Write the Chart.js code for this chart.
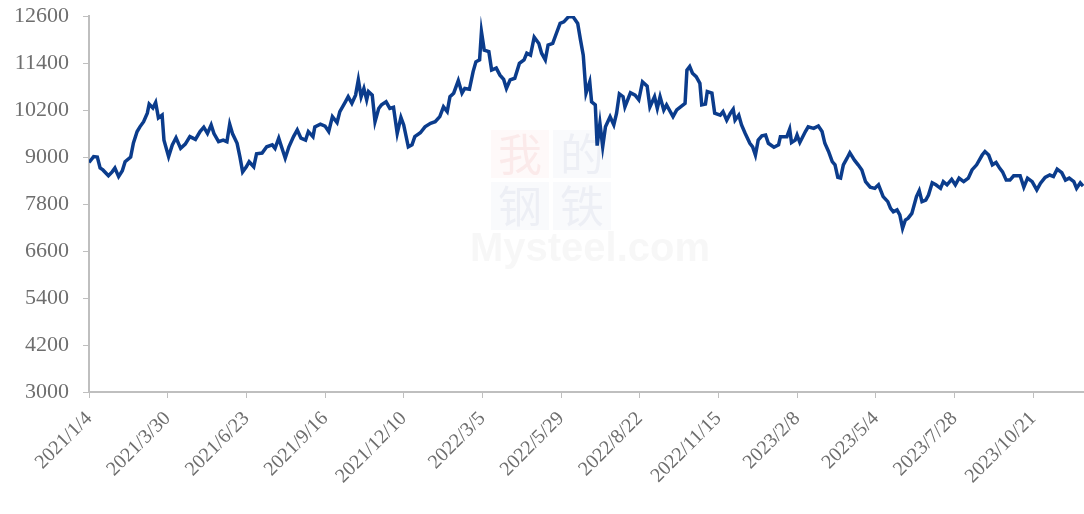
<!DOCTYPE html>
<html>
<head>
<meta charset="utf-8">
<script src="https://cdn.jsdelivr.net/npm/chart.js@4/dist/chart.umd.min.js"></script>
<style>
  html, body { margin: 0; padding: 0; background: #fff; }
  #wrap { width: 1084px; height: 514px; position: relative; }
</style>
</head>
<body>
<div id="wrap"><canvas id="chart"></canvas></div>
<script>
// price series (about one point per trading week)
var dates = [
    '2021/1/4', '2021/1/9', '2021/1/13', '2021/1/16', '2021/1/19', '2021/1/25', '2021/1/29', '2021/2/1', '2021/2/5', '2021/2/9',
    '2021/2/12', '2021/2/18', '2021/2/21', '2021/2/25', '2021/2/28', '2021/3/4', '2021/3/8', '2021/3/10', '2021/3/14', '2021/3/17',
    '2021/3/20', '2021/3/24', '2021/3/26', '2021/3/31', '2021/4/4', '2021/4/8', '2021/4/13', '2021/4/18', '2021/4/23', '2021/4/29',
    '2021/5/4', '2021/5/8', '2021/5/12', '2021/5/16', '2021/5/19', '2021/5/24', '2021/5/29', '2021/6/2', '2021/6/5', '2021/6/8',
    '2021/6/13', '2021/6/16', '2021/6/19', '2021/6/23', '2021/6/26', '2021/7/1', '2021/7/4', '2021/7/10', '2021/7/15', '2021/7/21',
    '2021/7/24', '2021/7/28', '2021/7/31', '2021/8/4', '2021/8/8', '2021/8/13', '2021/8/17', '2021/8/21', '2021/8/26', '2021/8/29',
    '2021/9/3', '2021/9/5', '2021/9/11', '2021/9/16', '2021/9/20', '2021/9/24', '2021/9/29', '2021/10/2', '2021/10/8', '2021/10/11',
    '2021/10/15', '2021/10/19', '2021/10/22', '2021/10/25', '2021/10/28', '2021/10/31', '2021/11/2', '2021/11/6', '2021/11/9', '2021/11/13',
    '2021/11/16', '2021/11/21', '2021/11/25', '2021/11/29', '2021/12/3', '2021/12/7', '2021/12/10', '2021/12/15', '2021/12/19', '2021/12/22',
    '2021/12/28', '2022/1/2', '2022/1/8', '2022/1/13', '2022/1/18', '2022/1/22', '2022/1/26', '2022/1/29', '2022/2/2', '2022/2/7',
    '2022/2/11', '2022/2/14', '2022/2/19', '2022/2/23', '2022/2/26', '2022/3/2', '2022/3/4', '2022/3/7', '2022/3/12', '2022/3/15',
    '2022/3/20', '2022/3/24', '2022/3/28', '2022/3/31', '2022/4/4', '2022/4/9', '2022/4/14', '2022/4/19', '2022/4/22', '2022/4/26',
    '2022/4/30', '2022/5/5', '2022/5/8', '2022/5/12', '2022/5/15', '2022/5/20', '2022/5/24', '2022/5/28', '2022/6/1', '2022/6/6',
    '2022/6/11', '2022/6/16', '2022/6/19', '2022/6/22', '2022/6/25', '2022/6/29', '2022/7/1', '2022/7/5', '2022/7/7', '2022/7/10',
    '2022/7/13', '2022/7/16', '2022/7/21', '2022/7/25', '2022/7/28', '2022/7/31', '2022/8/4', '2022/8/6', '2022/8/12', '2022/8/17',
    '2022/8/21', '2022/8/25', '2022/8/30', '2022/9/2', '2022/9/7', '2022/9/10', '2022/9/13', '2022/9/17', '2022/9/20', '2022/9/24',
    '2022/9/27', '2022/10/1', '2022/10/10', '2022/10/12', '2022/10/15', '2022/10/18', '2022/10/22', '2022/10/26', '2022/10/28', '2022/11/1',
    '2022/11/3', '2022/11/8', '2022/11/11', '2022/11/17', '2022/11/20', '2022/11/24', '2022/11/28', '2022/12/1', '2022/12/3', '2022/12/7',
    '2022/12/10', '2022/12/14', '2022/12/19', '2022/12/22', '2022/12/25', '2022/12/28', '2023/1/1', '2023/1/5', '2023/1/8', '2023/1/14',
    '2023/1/19', '2023/1/21', '2023/1/28', '2023/1/31', '2023/2/2', '2023/2/6', '2023/2/8', '2023/2/11', '2023/2/17', '2023/2/20',
    '2023/2/26', '2023/3/3', '2023/3/7', '2023/3/10', '2023/3/14', '2023/3/18', '2023/3/21', '2023/3/24', '2023/3/27', '2023/3/30',
    '2023/4/3', '2023/4/6', '2023/4/11', '2023/4/15', '2023/4/19', '2023/4/23', '2023/4/28', '2023/5/3', '2023/5/7', '2023/5/12',
    '2023/5/17', '2023/5/20', '2023/5/23', '2023/5/27', '2023/5/30', '2023/6/2', '2023/6/5', '2023/6/8', '2023/6/12', '2023/6/17',
    '2023/6/20', '2023/6/23', '2023/6/27', '2023/6/30', '2023/7/4', '2023/7/8', '2023/7/13', '2023/7/16', '2023/7/20', '2023/7/25',
    '2023/7/29', '2023/8/2', '2023/8/7', '2023/8/12', '2023/8/16', '2023/8/21', '2023/8/27', '2023/8/30', '2023/9/3', '2023/9/7',
    '2023/9/11', '2023/9/15', '2023/9/18', '2023/9/22', '2023/9/26', '2023/9/30', '2023/10/7', '2023/10/11', '2023/10/15', '2023/10/20',
    '2023/10/25', '2023/10/29', '2023/11/3', '2023/11/8', '2023/11/12', '2023/11/16', '2023/11/21', '2023/11/25', '2023/11/29', '2023/12/4',
    '2023/12/7', '2023/12/11', '2023/12/14'
];
var prices = [
    8860, 9010, 9000, 8720, 8670, 8520, 8620, 8720, 8500, 8650,
    8880, 9000, 9360, 9650, 9770, 9900, 10120, 10350, 10250, 10390,
    10000, 10070, 9430, 9010, 9310, 9490, 9220, 9330, 9520, 9450,
    9650, 9760, 9600, 9820, 9600, 9390, 9430, 9390, 9840, 9600,
    9350, 9010, 8620, 8750, 8880, 8750, 9080, 9100, 9260, 9310,
    9220, 9480, 9260, 8970, 9260, 9520, 9690, 9480, 9430, 9650,
    9520, 9770, 9840, 9790, 9650, 10030, 9880, 10160, 10410, 10540,
    10370, 10580, 10970, 10540, 10750, 10460, 10670, 10580, 9900, 10240,
    10330, 10410, 10240, 10270, 9600, 10010, 9820, 9260, 9310, 9520,
    9620, 9770, 9860, 9900, 10030, 10280, 10160, 10540, 10630, 10950,
    10630, 10750, 10730, 11180, 11430, 11480, 12200, 11730, 11690, 11220,
    11270, 11090, 10980, 10750, 10970, 11010, 11390, 11480, 11650, 11600,
    12060, 11900, 11650, 11480, 11860, 11900, 12160, 12410, 12450, 12580,
    12580, 12410, 11990, 11600, 10630, 10920, 10410, 10330, 9290, 9860,
    9260, 9770, 10030, 9820, 10120, 10610, 10540, 10280, 10640, 10580,
    10460, 10920, 10810, 10280, 10540, 10240, 10540, 10200, 10330, 10160,
    10030, 10200, 10370, 11220, 11310, 11140, 11050, 10880, 10330, 10350,
    10670, 10630, 10120, 10070, 10160, 9940, 10120, 10220, 9940, 10070,
    9820, 9600, 9350, 9260, 9050, 9430, 9540, 9560, 9350, 9250,
    9310, 9520, 9520, 9710, 9370, 9430, 9560, 9370, 9650, 9770,
    9730, 9790, 9650, 9350, 9140, 8880, 8800, 8480, 8460, 8800,
    8970, 9110, 8920, 8800, 8670, 8370, 8230, 8200, 8290, 7990,
    7860, 7690, 7600, 7650, 7520, 7180, 7390, 7440, 7560, 7990,
    8140, 7860, 7900, 8030, 8340, 8290, 8200, 8370, 8290, 8430,
    8290, 8460, 8370, 8460, 8670, 8800, 9050, 9140, 9050, 8800,
    8860, 8710, 8620, 8410, 8410, 8520, 8520, 8230, 8460, 8370,
    8160, 8330, 8480, 8540, 8500, 8690, 8600, 8410, 8460, 8370,
    8200, 8340, 8260
];
var tickLabels = ['2021/1/4', '2021/3/30', '2021/6/23', '2021/9/16', '2021/12/10', '2022/3/5', '2022/5/29',
    '2022/8/22', '2022/11/15', '2023/2/8', '2023/5/4', '2023/7/28', '2023/10/21'];
var lastDay = '2023/12/15';
var yMin = 3000, yMax = 12600, yStep = 1200;

// days since the first date, used as x position on a linear axis
function dayIndex(s) {
    var p = s.split('/');
    var t = Date.UTC(+p[0], +p[1] - 1, +p[2]);
    var p0 = dates[0].split('/');
    return Math.round((t - Date.UTC(+p0[0], +p0[1] - 1, +p0[2])) / 86400000);
}

var points = dates.map(function (d, i) {
    return { x: dayIndex(d), y: prices[i] };
});
var tickDays = tickLabels.map(dayIndex);

var serif = '"Liberation Serif", "Times New Roman", serif';
var axisGrey = '#bfbfbf';
var textGrey = '#6e6e6e';

// faint site watermark behind the line
var watermark = {
    id: 'watermark',
    beforeDatasetsDraw: function (chart) {
        var ctx = chart.ctx;
        ctx.save();
        ctx.fillStyle = 'rgba(235, 80, 80, 0.035)';
        ctx.fillRect(491, 130, 58, 48);
        ctx.fillStyle = 'rgba(60, 90, 160, 0.03)';
        ctx.fillRect(553, 130, 58, 48);
        ctx.fillRect(491, 182, 58, 48);
        ctx.fillRect(553, 182, 58, 48);
        ctx.font = '44px "Noto Sans CJK SC"';
        ctx.textAlign = 'center';
        ctx.textBaseline = 'middle';
        ctx.fillStyle = 'rgba(225, 90, 90, 0.09)';
        ctx.fillText('我', 520, 154);
        ctx.fillStyle = 'rgba(80, 100, 150, 0.07)';
        ctx.fillText('的', 582, 154);
        ctx.fillText('钢', 520, 206);
        ctx.fillText('铁', 582, 206);
        ctx.font = 'bold 40px "Liberation Sans", Arial, sans-serif';
        ctx.fillStyle = 'rgba(150, 150, 150, 0.08)';
        ctx.fillText('Mysteel.com', 590, 250);
        ctx.restore();
    }
};

var ctx = document.getElementById('chart').getContext('2d');
new Chart(ctx, {
    type: 'line',
    data: {
        datasets: [{
            data: points,
            borderColor: '#0b3c8c',
            borderWidth: 3.5,
            pointRadius: 0,
            tension: 0,
            fill: false
        }]
    },
    options: {
        responsive: true,
        maintainAspectRatio: false,
        animation: false,
        layout: { padding: { top: 16, right: 0, left: 0, bottom: 0 } },
        plugins: {
            legend: { display: false },
            tooltip: { enabled: false }
        },
        scales: {
            x: {
                type: 'linear',
                min: 0,
                max: dayIndex(lastDay),
                afterBuildTicks: function (scale) {
                    scale.ticks = tickDays.map(function (v) { return { value: v }; });
                },
                afterFit: function (scale) {
                    scale.height = 122;
                    scale.paddingRight = 0;
                },
                grid: { drawOnChartArea: false, drawTicks: true, tickLength: 6, color: axisGrey },
                border: { display: true, color: axisGrey, width: 2 },
                ticks: {
                    autoSkip: false,
                    maxRotation: 45,
                    minRotation: 45,
                    padding: 9,
                    color: textGrey,
                    font: { family: serif, size: 20 },
                    callback: function (value) {
                        var i = tickDays.indexOf(value);
                        return i >= 0 ? tickLabels[i] : '';
                    }
                }
            },
            y: {
                min: yMin,
                max: yMax,
                afterFit: function (scale) {
                    scale.width = 89;
                    scale.paddingTop = 0;
                    scale.paddingBottom = 0;
                },
                grid: { drawOnChartArea: false, drawTicks: true, tickLength: 6, color: axisGrey },
                border: { display: true, color: axisGrey, width: 2 },
                ticks: {
                    stepSize: yStep,
                    padding: 14,
                    color: textGrey,
                    font: { family: serif, size: 22 },
                    callback: function (value) { return String(value); }
                }
            }
        }
    },
    plugins: [watermark]
});
</script>
</body>
</html>
